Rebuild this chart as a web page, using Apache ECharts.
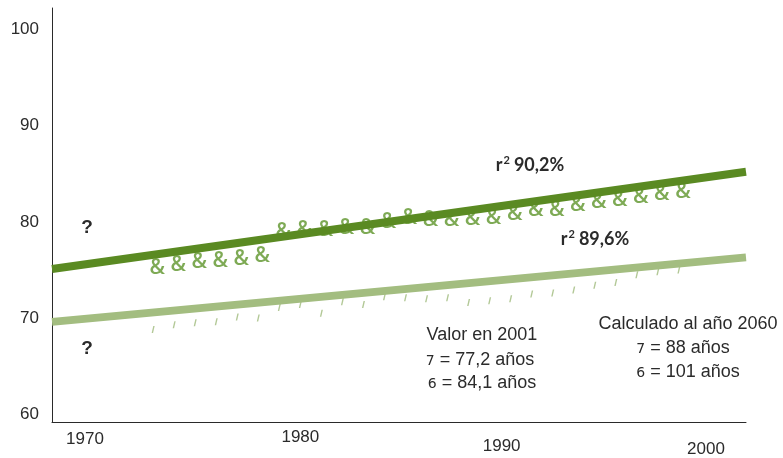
<!DOCTYPE html>
<html>
<head>
<meta charset="utf-8">
<script src="https://cdn.jsdelivr.net/npm/echarts@6/dist/echarts.min.js"></script>
<style>
  html, body { margin: 0; padding: 0; background: #ffffff; }
  #chart { width: 783px; height: 458px; }
</style>
</head>
<body>
<div id="chart"></div>
<script>
// Life expectancy at birth (years), annual observations
const years = [1974, 1975, 1976, 1977, 1978, 1979, 1980, 1981, 1982, 1983, 1984, 1985, 1986,
               1987, 1988, 1989, 1990, 1991, 1992, 1993, 1994, 1995, 1996, 1997, 1998, 1999];
const womenValues = [75.0, 75.3, 75.6, 75.7, 75.9, 76.2, 78.7, 78.9, 78.9, 79.2, 79.2, 79.8, 80.2,
                     80.0, 80.0, 80.1, 80.2, 80.6, 81.0, 81.0, 81.5, 81.9, 82.1, 82.4, 82.7, 82.9];
const menValues = [68.6, 69.1, 69.3, 69.4, 69.9, 69.8, 70.9, 71.2, 70.3, 71.5, 71.2, 72.0, 71.9,
                   71.8, 71.9, 71.4, 71.6, 71.8, 72.3, 72.4, 72.7, 73.2, 73.5, 74.3, 74.6, 74.8];

// Linear trend lines (start year / end year)
const womenTrend = [[1969, 74.9], [2002, 85.0]];
const menTrend = [[1969, 69.4], [2002, 76.1]];

// Axis tick labels
const xTickLabels = [1970, 1980, 1990, 2000];
const yTickLabels = [60, 70, 80, 90, 100];

// Annotation texts
const r2Women = ['r', '2', '90,2%'];
const r2Men = ['r', '2', '89,6%'];
const valueTitle = 'Valor en 2001';
const valueMen = ['7', ' = 77,2 años'];
const valueWomen = ['6', ' = 84,1 años'];
const projTitle = 'Calculado al año 2060';
const projMen = ['7', ' = 88 años'];
const projWomen = ['6', ' = 101 años'];

// ---- styling ----
const DARK = '#5a8a22';
const DARK_MARK = '#5e952b';
const LIGHT = '#a3bd80';
const LIGHT_MARK = '#9fba7c';
const TEXT = '#2b2b2b';
const SANS = '"Liberation Sans", Arial, sans-serif';
const BOLD = 'Lato, "Open Sans", sans-serif';

// per-label placement tweaks of the year labels: [top, left] padding
const xLabelPad = { 1970: [2, 24], 1980: [0, 34], 1990: [9, 16], 2000: [12, 4] };
const xRich = {};
xTickLabels.forEach(function (y) {
  xRich['y' + y] = { padding: [xLabelPad[y][0], 0, 0, xLabelPad[y][1]], fontSize: 17, fontFamily: SANS, color: TEXT };
});

const pair = (xs, ys) => xs.map((x, i) => [x, ys[i]]);

const annRich = {
  s: { fontSize: 14, fontFamily: '"DejaVu Sans", sans-serif', fill: TEXT, padding: [3, 0, 0, 0] },
  t: { fontSize: 18, fontFamily: SANS, fill: TEXT }
};
function symbolLine(x, y, parts) {
  return {
    type: 'text', x: x, y: y,
    style: { text: '{s|' + parts[0] + '}{t|' + parts[1] + '}', align: 'center', verticalAlign: 'middle', rich: annRich }
  };
}

const r2Rich = {
  b: { fontSize: 18, fontWeight: 'bold', fontFamily: BOLD, fill: TEXT },
  sup: { fontSize: 11, fontWeight: 'bold', fontFamily: BOLD, fill: TEXT, padding: [0, 4, 9, 1] }
};
function r2Label(x, y, parts) {
  return {
    type: 'text', x: x, y: y,
    style: { text: '{b|' + parts[0] + '}{sup|' + parts[1] + '}{b|' + parts[2] + '}', align: 'center', verticalAlign: 'middle', rich: r2Rich }
  };
}

const chart = echarts.init(document.getElementById('chart'), null, { renderer: 'canvas' });
chart.setOption({
  animation: false,
  backgroundColor: '#ffffff',
  grid: { left: 52, right: 37, top: 8, bottom: 36 },
  xAxis: {
    type: 'value', min: 1969, max: 2002, interval: 1,
    axisLine: { show: true, lineStyle: { color: '#2a2a2a', width: 1 } },
    axisTick: { show: false },
    splitLine: { show: false },
    axisLabel: {
      margin: 7,
      formatter: function (v) { return xTickLabels.indexOf(v) >= 0 ? '{y' + v + '|' + v + '}' : ''; },
      rich: xRich
    }
  },
  yAxis: {
    type: 'value', min: 59, max: 102, interval: 1,
    axisLine: { show: true, lineStyle: { color: '#2a2a2a', width: 1 } },
    axisTick: { show: false },
    splitLine: { show: false },
    axisLabel: {
      margin: 13,
      formatter: function (v) { return yTickLabels.indexOf(v) >= 0 ? '{v|' + v + '}' : ''; },
      rich: { v: { fontSize: 17, fontFamily: SANS, color: TEXT, padding: [4, 0, 0, 0] } }
    }
  },
  series: [
    {
      name: 'Mujeres', type: 'scatter', data: pair(years, womenValues), z: 2,
      symbol: 'circle', symbolSize: 1, itemStyle: { color: 'rgba(0,0,0,0)' },
      label: { show: true, position: 'inside', formatter: '&', fontSize: 21, fontWeight: 600,
               fontFamily: '"Open Sans", sans-serif', color: DARK_MARK }
    },
    {
      name: 'Hombres', type: 'scatter', data: pair(years, menValues), z: 2,
      symbol: 'path://M1.6,0 L3,0 L1.4,7 L0,7 Z', symbolSize: [3, 7], symbolOffset: [-4, 0],
      itemStyle: { color: LIGHT_MARK }
    },
    {
      name: 'Tendencia mujeres', type: 'line', data: womenTrend, z: 3,
      symbol: 'none', lineStyle: { color: DARK, width: 8, cap: 'butt' }
    },
    {
      name: 'Tendencia hombres', type: 'line', data: menTrend, z: 3,
      symbol: 'none', lineStyle: { color: LIGHT, width: 8, cap: 'butt' }
    }
  ],
  graphic: [
    r2Label(530, 165, r2Women),
    r2Label(595, 239, r2Men),
    { type: 'text', x: 87, y: 228, style: { text: '?', font: 'bold 19px ' + SANS, fill: TEXT, align: 'center', verticalAlign: 'middle' } },
    { type: 'text', x: 87, y: 349, style: { text: '?', font: 'bold 19px ' + SANS, fill: TEXT, align: 'center', verticalAlign: 'middle' } },
    { type: 'text', x: 482, y: 335, style: { text: valueTitle, font: '18px ' + SANS, fill: TEXT, align: 'center', verticalAlign: 'middle' } },
    symbolLine(480, 360, valueMen),
    symbolLine(482, 383, valueWomen),
    { type: 'text', x: 688, y: 324, style: { text: projTitle, font: '18px ' + SANS, fill: TEXT, align: 'center', verticalAlign: 'middle' } },
    symbolLine(683, 348, projMen),
    symbolLine(688, 372, projWomen)
  ]
});
</script>
</body>
</html>
